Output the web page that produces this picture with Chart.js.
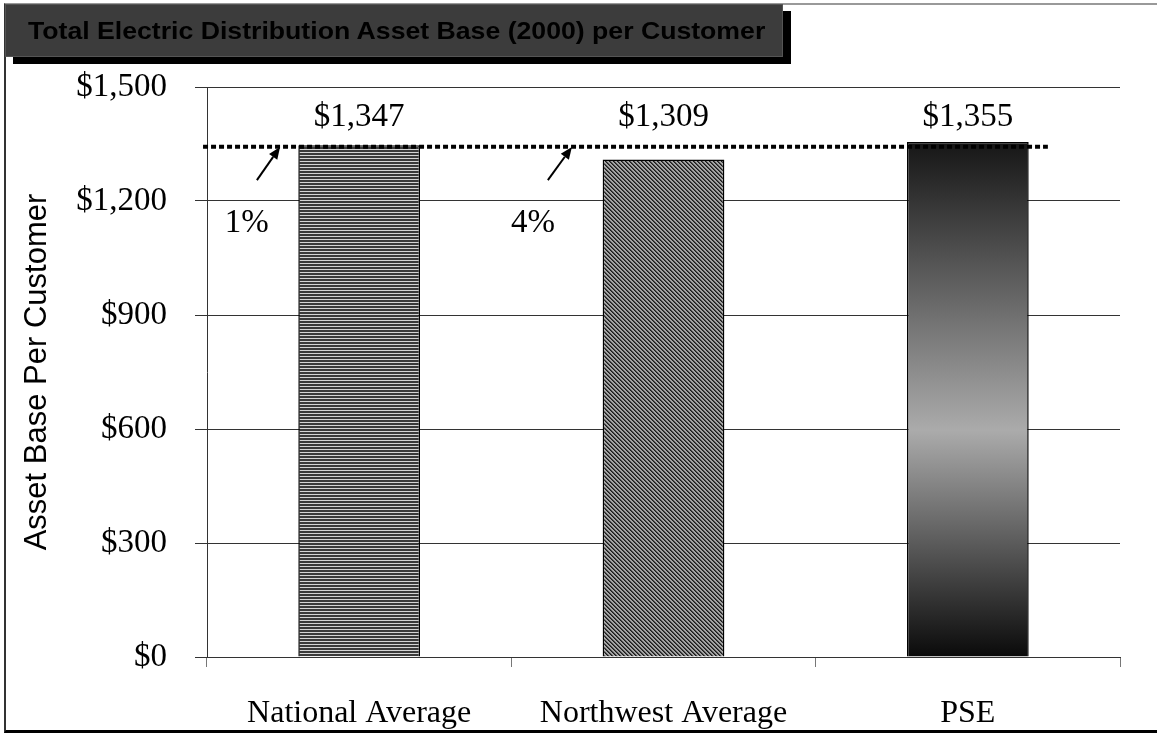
<!DOCTYPE html>
<html>
<head>
<meta charset="utf-8">
<script src="https://cdn.jsdelivr.net/npm/chart.js@4/dist/chart.umd.min.js"></script>
<style>
  html, body { margin:0; padding:0; background:#fff; }
  #wrap { position:relative; width:1157px; height:736px; overflow:hidden; }
  #frame { position:absolute; left:4px; top:3px; width:1160px; height:730px;
           border-left:2px solid #333; border-top:2px solid #999; border-bottom:3px solid #000; box-sizing:border-box; }
  #title { position:absolute; left:5px; top:4px; width:778px; height:53px; box-sizing:border-box;
           background:#3c3c3c; border:1px solid #555; box-shadow:8px 7px 0 #000;
           font:bold 24px "Liberation Sans", Arial, sans-serif; color:#000;
           line-height:51px; padding-left:22px; white-space:nowrap; z-index:2; }
  #title span { display:inline-block; transform:scaleX(1.11); transform-origin:left center; }
  canvas { position:absolute; left:0; top:0; z-index:1; }
</style>
</head>
<body>
<div id="wrap">
  <div id="frame"></div>
  <div id="title"><span>Total Electric Distribution Asset Base (2000) per Customer</span></div>
  <canvas id="c" width="1157" height="736"></canvas>
</div>
<script>
// ---- data ----
const categories = ['National Average', 'Northwest Average', 'PSE'];
const values = [1347, 1309, 1355];
const valueLabels = ['$1,347', '$1,309', '$1,355'];
const yTickValues = [0, 300, 600, 900, 1200, 1500];
const diffLabels = ['1%', '4%'];
const diffCategories = [0, 1];
const referenceValue = 1343;
const yAxisTitle = 'Asset Base Per Customer';

// ---- annotation placement (fractions of a category width, value-axis levels) ----
const annotLayout = {
  lineFrom: -0.513, lineTo: 2.263,
  labelLevel: 1421,
  arrowTail: [{dx:-0.336, v:1255}, {dx:-0.380, v:1255}],
  arrowTip:  [{dx:-0.260, v:1342}, {dx:-0.301, v:1342}],
  diffPos:   [{dx:-0.369, v:1140}, {dx:-0.429, v:1140}]
};

const SERIF = '"Liberation Serif", "Times New Roman", serif';
const SANS = '"Liberation Sans", Arial, sans-serif';

function stripePattern() {
  const c = document.createElement('canvas'); c.width = 3; c.height = 3;
  const g = c.getContext('2d');
  g.fillStyle = '#3a3a3a'; g.fillRect(0,0,3,3);
  g.fillStyle = '#d4d4d4'; g.fillRect(0,2,3,1);
  return g.createPattern(c, 'repeat');
}
function diagPattern() {
  const c = document.createElement('canvas'); c.width = 4; c.height = 4;
  const g = c.getContext('2d');
  g.fillStyle = '#a4a4a4'; g.fillRect(0,0,4,4);
  for (let i = 0; i < 4; i++) {
    g.fillStyle = '#1a1a1a'; g.fillRect(i, i, 1, 1);
    g.fillStyle = '#4a4a4a'; g.fillRect((i+1)%4, i, 1, 1);
  }
  return g.createPattern(c, 'repeat');
}
const ctx0 = document.getElementById('c').getContext('2d');
const patterns = [stripePattern(), diagPattern()];

function barFill(context) {
  const i = context.dataIndex;
  if (i < 2) return patterns[i];
  const chart = context.chart;
  if (!chart.chartArea) return '#777';
  const y = chart.scales.y;
  const top = y.getPixelForValue(values[i]);
  const bot = y.getPixelForValue(0);
  const g = chart.ctx.createLinearGradient(0, top, 0, bot);
  g.addColorStop(0, '#161616');
  g.addColorStop(0.56, '#ababab');
  g.addColorStop(1, '#0a0a0a');
  return g;
}

const annotPlugin = {
  id: 'annot',
  afterDatasetsDraw(chart) {
    const {ctx, scales:{x, y}} = chart;
    const x0 = x.getPixelForValue(0);
    const cw = x.getPixelForValue(1) - x0;
    const px = (cat, dx) => x.getPixelForValue(cat) + dx * cw;
    ctx.save();
    // dotted reference line
    const ly = y.getPixelForValue(referenceValue);
    ctx.strokeStyle = '#000'; ctx.lineWidth = 4; ctx.setLineDash([5, 3]);
    ctx.beginPath();
    ctx.moveTo(px(0, annotLayout.lineFrom), ly);
    ctx.lineTo(px(0, annotLayout.lineTo), ly);
    ctx.stroke();
    ctx.setLineDash([]);
    // value labels
    ctx.fillStyle = '#000';
    ctx.font = '33px ' + SERIF;
    ctx.textAlign = 'center'; ctx.textBaseline = 'middle';
    valueLabels.forEach((t, i) => ctx.fillText(t, x.getPixelForValue(i), y.getPixelForValue(annotLayout.labelLevel)));
    // arrows and percentage labels
    diffCategories.forEach((cat, k) => {
      const t = annotLayout.arrowTail[k], h = annotLayout.arrowTip[k];
      const x1 = px(cat, t.dx), y1 = y.getPixelForValue(t.v);
      const x2 = px(cat, h.dx), y2 = y.getPixelForValue(h.v);
      const ang = Math.atan2(y2 - y1, x2 - x1);
      const hl = 12, hw = 5;
      ctx.lineWidth = 2; ctx.strokeStyle = '#000';
      ctx.beginPath(); ctx.moveTo(x1, y1);
      ctx.lineTo(x2 - hl * Math.cos(ang), y2 - hl * Math.sin(ang)); ctx.stroke();
      ctx.beginPath();
      ctx.moveTo(x2, y2);
      ctx.lineTo(x2 - hl*Math.cos(ang) + hw*Math.sin(ang), y2 - hl*Math.sin(ang) - hw*Math.cos(ang));
      ctx.lineTo(x2 - hl*Math.cos(ang) - hw*Math.sin(ang), y2 - hl*Math.sin(ang) + hw*Math.cos(ang));
      ctx.closePath(); ctx.fill();
      const d = annotLayout.diffPos[k];
      ctx.fillText(diffLabels[k], px(cat, d.dx), y.getPixelForValue(d.v));
    });
    ctx.restore();
  }
};

new Chart(ctx0, {
  type: 'bar',
  data: {
    labels: categories,
    datasets: [{
      data: values,
      backgroundColor: barFill,
      borderColor: '#000',
      borderWidth: 1.5,
      barPercentage: 0.4,
      categoryPercentage: 1.0
    }]
  },
  options: {
    responsive: false,
    animation: false,
    events: [],
    layout: { padding: { top: 87, right: 37, left: 0, bottom: 0 } },
    plugins: { legend: { display: false }, tooltip: { enabled: false }, title: { display: false } },
    scales: {
      x: {
        offset: true,
        grid: { drawOnChartArea: false, drawTicks: true, tickLength: 10, color: '#777', offset: true },
        border: { display: true, color: '#333', width: 1 },
        ticks: { color: '#000', font: { family: SERIF, size: 32 }, padding: 27, maxRotation: 0 },
        afterFit(s) { s.height = 79; }
      },
      y: {
        min: 0, max: 1500,
        afterBuildTicks(s) { s.ticks = yTickValues.map(v => ({ value: v })); },
        grid: { color: '#333', lineWidth: 1, drawTicks: true, tickLength: 12 },
        border: { display: true, color: '#333', width: 1 },
        ticks: { color: '#000', font: { family: SERIF, size: 33 }, padding: 28,
                 callback: v => '$' + Number(v).toLocaleString('en-US') },
        title: { display: true, text: yAxisTitle, color: '#000',
                 font: { family: SANS, size: 31 }, padding: { top: 19, bottom: 0 } },
        afterFit(s) { s.width = 207; }
      }
    }
  },
  plugins: [annotPlugin]
});
</script>
</body>
</html>
